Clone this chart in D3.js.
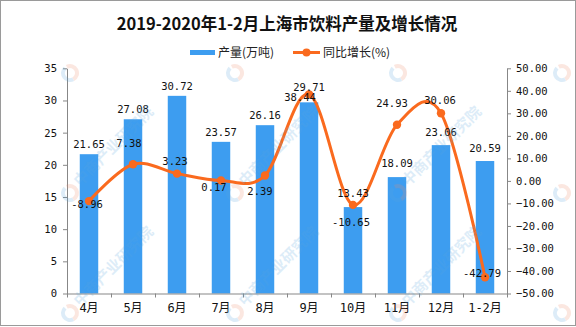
<!DOCTYPE html>
<html><head><meta charset="utf-8">
<script src="https://cdn.jsdelivr.net/npm/d3@7"></script>
<style>body{margin:0;background:#fff}svg{display:block}</style>
</head><body>
<svg id="c" width="576" height="327"></svg>
<script>
const title = "2019-2020年1-2月上海市饮料产量及增长情况";
const categories = ["4月","5月","6月","7月","8月","9月","10月","11月","12月","1-2月"];
const output = [21.65,27.08,30.72,23.57,26.16,29.71,13.43,18.09,23.06,20.59];
const growth = [-8.96,7.38,3.23,0.17,2.39,38.44,-10.65,24.93,30.06,-42.79];
const leftTicks = [0,5,10,15,20,25,30,35];
const rightTicks = [-50,-40,-30,-20,-10,0,10,20,30,40,50];
const seriesNames = ["产量(万吨)","同比增长(%)"];
// label layout (annotation offsets, px)
const growthLabelOffset = [[-2,3],[-4,-21],[-2,-12],[-7,7],[-5,16],[-9,3],[-2,17],[-5,-21],[-1,-13],[-3,-4]];
const barLabelGap = [10,10,10,10,10,15,13.5,13.5,13,13];

const BLUE = "#3d9df0", ORANGE = "#fa6a1e", AXIS = "#878787";
const numFont = "'DejaVu Sans Mono', monospace";
const cjkFont = "'DejaVu Sans Mono','Noto Sans CJK SC', sans-serif";

const svg = d3.select("#c");
const L = 67, R = 507, T = 68.3, B = 293.5;

const x = d3.scaleBand().domain(categories).range([L, R]).padding(0);
const xb = d3.scaleLinear().domain([0, categories.length]).range([L, R]);
const yL = d3.scaleLinear().domain([0, 35]).range([B, T]);
const yR = d3.scaleLinear().domain([-50, 50]).range([B, T]);

// border
svg.append("rect").attr("x",0.5).attr("y",0.5).attr("width",575).attr("height",325)
  .attr("fill","none").attr("stroke","#9a9a9a");

// title
svg.append("text").attr("x", 287).attr("y", 30).attr("text-anchor","middle")
  .attr("font-family","'Noto Sans CJK SC', sans-serif").attr("font-weight","bold")
  .attr("font-size", 16.5).attr("fill","#111").text(title);

// legend
const lg = svg.append("g").attr("font-family","'Noto Sans CJK SC', sans-serif").attr("font-size",12).attr("fill","#222");
lg.append("rect").attr("x",190).attr("y",50).attr("width",25).attr("height",5).attr("fill",BLUE);
lg.append("text").attr("x",218).attr("y",56.5).text(seriesNames[0]);
lg.append("line").attr("x1",293).attr("x2",320).attr("y1",52.5).attr("y2",52.5).attr("stroke",ORANGE).attr("stroke-width",3);
lg.append("circle").attr("cx",306.5).attr("cy",52.5).attr("r",4).attr("fill",ORANGE);
lg.append("text").attr("x",323).attr("y",56.5).text(seriesNames[1]);

// bars
const bw = x.bandwidth() * 0.42;
svg.append("g").selectAll("rect").data(output).join("rect")
  .attr("x", (d,i) => x(categories[i]) + x.bandwidth()/2 - bw/2)
  .attr("y", d => yL(d)).attr("width", bw).attr("height", d => B - yL(d))
  .attr("fill", BLUE);

// axes
function styleAxis(g){
  g.selectAll("path,line").attr("stroke", AXIS).attr("stroke-width",1);
  g.selectAll("text").attr("font-family", numFont).attr("font-size", 10.5).attr("fill","#111");
}
svg.append("g").attr("transform",`translate(${L},0)`)
  .call(d3.axisLeft(yL).tickValues(leftTicks).tickSize(4).tickPadding(6).tickSizeOuter(0))
  .call(styleAxis);
svg.append("g").attr("transform",`translate(${R},0)`)
  .call(d3.axisRight(yR).tickValues(rightTicks).tickSize(4).tickPadding(5).tickSizeOuter(0).tickFormat(d3.format(".2f")))
  .call(styleAxis);
svg.append("g").attr("transform",`translate(0,${B})`)
  .call(d3.axisBottom(xb).tickValues(d3.range(categories.length+1)).tickFormat("").tickSize(4).tickSizeOuter(0))
  .call(styleAxis);
svg.append("g").selectAll("text").data(categories).join("text")
  .attr("x", d => x(d) + x.bandwidth()/2).attr("y", 312)
  .attr("text-anchor","middle").attr("font-family", cjkFont).attr("font-size", 12).attr("fill","#111")
  .text(d => d);

// line
const cx = i => x(categories[i]) + x.bandwidth()/2;
const line = d3.line().x((d,i) => cx(i)).y(d => yR(d)).curve(d3.curveCardinal.tension(0));
svg.append("path").datum(growth).attr("d", line).attr("fill","none")
  .attr("stroke", ORANGE).attr("stroke-width", 3);
svg.append("g").selectAll("circle").data(growth).join("circle")
  .attr("cx", (d,i) => cx(i)).attr("cy", d => yR(d)).attr("r", 4.2).attr("fill", ORANGE);

// bar labels
svg.append("g").selectAll("text").data(output).join("text")
  .attr("x", (d,i) => cx(i)).attr("y", (d,i) => yL(d) - barLabelGap[i]).attr("dy","0.35em")
  .attr("text-anchor","middle").attr("font-family", numFont).attr("font-size", 10.5).attr("fill","#111")
  .text(d => d.toFixed(2));
// growth labels
svg.append("g").selectAll("text").data(growth).join("text")
  .attr("x", (d,i) => cx(i) + growthLabelOffset[i][0]).attr("y", (d,i) => yR(d) + growthLabelOffset[i][1]).attr("dy","0.35em")
  .attr("text-anchor","middle").attr("font-family", numFont).attr("font-size", 10.5).attr("fill","#111")
  .text(d => d.toFixed(2));

// watermark (logos on a grid; text only where it fits inside the frame)
const wm = svg.append("g").attr("pointer-events","none");
const wx = [70, 235, 398, 562], wy = [73, 193, 313];
wx.forEach(px => wy.forEach(py => {
  const g = wm.append("g").attr("transform",`translate(${px},${py})`).attr("opacity",0.2);
  g.append("path").attr("d", d3.arc()({innerRadius:5,outerRadius:9,startAngle:-Math.PI*0.15,endAngle:Math.PI*0.85})).attr("fill","#f08a6a");
  g.append("path").attr("d", d3.arc()({innerRadius:5,outerRadius:9,startAngle:Math.PI*0.85,endAngle:Math.PI*1.75})).attr("fill","#5aa6dd");
  if (py > 100 && px < 500) {
    g.append("text").attr("transform","translate(10,-6) rotate(-45)")
      .attr("font-family","'Noto Sans CJK SC', sans-serif").attr("font-weight","bold").attr("font-size",15)
      .attr("fill","#5aa6dd").text("中商产业研究院");
  }
}));
</script>
</body></html>
